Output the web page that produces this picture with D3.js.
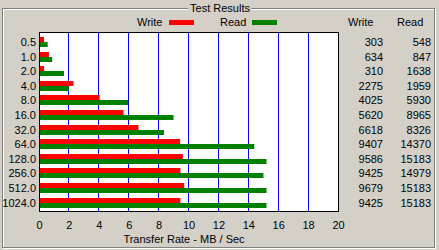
<!DOCTYPE html>
<html>
<head>
<meta charset="utf-8">
<script src="https://cdnjs.cloudflare.com/ajax/libs/d3/7.8.5/d3.min.js"></script>
<style>
  body { margin: 0; background: #d4d0c8; }
  svg { display: block; font-family: "Liberation Sans", Arial, sans-serif; font-size: 11px; }
</style>
</head>
<body>
<div class="mysvg"><svg></svg></div>
<script>
// block sizes tested
var blockSizes = ["0.5", "1.0", "2.0", "4.0", "8.0", "16.0", "32.0", "64.0", "128.0", "256.0", "512.0", "1024.0"];
// KB / sec
var writeValues = [303, 634, 310, 2275, 4025, 5620, 6618, 9407, 9586, 9425, 9679, 9425];
var readValues = [548, 847, 1638, 1959, 5930, 8965, 8326, 14370, 15183, 14979, 15183, 15183];
var xTicks = [0, 2, 4, 6, 8, 10, 12, 14, 16, 18, 20];

function drawResults(classname) {
  var width = 439, height = 250;

  var svg = d3.select(classname + " > svg")
    .attr("width", width)
    .attr("height", height)
    .style("background-color", "#d4d0c8");

  // group box (etched)
  svg.append("rect").attr("x", 3.5).attr("y", 9.5).attr("width", 432).attr("height", 239)
    .attr("fill", "none").attr("stroke", "#fff");
  svg.append("rect").attr("x", 2.5).attr("y", 8.5).attr("width", 432).attr("height", 239)
    .attr("fill", "none").attr("stroke", "#808080");
  svg.append("rect").attr("x", 188).attr("y", 2).attr("width", 63).attr("height", 10)
    .attr("fill", "#d4d0c8");
  svg.append("text").attr("x", 220).attr("y", 12).attr("text-anchor", "middle")
    .text("Test Results");

  var x = d3.scaleLinear().domain([0, 20]).range([39.5, 338.5]);
  var y = d3.scaleBand().domain(blockSizes).range([35, 35 + 14.6 * blockSizes.length]);

  // plot area
  svg.append("rect").attr("x", 39.5).attr("y", 32.5).attr("width", 299).attr("height", 179)
    .attr("fill", "#fff");

  svg.append("g").attr("class", "grid")
    .selectAll("line")
    .data(xTicks.slice(1, -1))
    .enter().append("line")
    .attr("x1", function (d) { return Math.round(x(d)) - 0.5; })
    .attr("x2", function (d) { return Math.round(x(d)) - 0.5; })
    .attr("y1", 33).attr("y2", 211)
    .attr("stroke", "#0000ff");

  var rows = svg.selectAll(".row")
    .data(blockSizes)
    .enter().append("g")
    .attr("class", "row");

  rows.append("rect")
    .attr("x", 40)
    .attr("y", function (d) { return Math.round(y(d) + 2); })
    .attr("width", function (d, i) { return x(writeValues[i] / 1000) - 40; })
    .attr("height", 5)
    .attr("fill", "#ff0000");

  rows.append("rect")
    .attr("x", 40)
    .attr("y", function (d) { return Math.round(y(d) + 7); })
    .attr("width", function (d, i) { return x(readValues[i] / 1000) - 40; })
    .attr("height", 5)
    .attr("fill", "#008000");

  svg.append("rect").attr("x", 39.5).attr("y", 32.5).attr("width", 299).attr("height", 179)
    .attr("fill", "none").attr("stroke", "#000");

  // category labels
  rows.append("text")
    .attr("x", 36)
    .attr("y", function (d) { return Math.round(y(d) + 11); })
    .attr("text-anchor", "end")
    .text(function (d) { return d; });

  // table on the right
  rows.append("text")
    .attr("x", 383)
    .attr("y", function (d) { return Math.round(y(d) + 11); })
    .attr("text-anchor", "end")
    .text(function (d, i) { return writeValues[i]; });

  rows.append("text")
    .attr("x", 431)
    .attr("y", function (d) { return Math.round(y(d) + 11); })
    .attr("text-anchor", "end")
    .text(function (d, i) { return readValues[i]; });

  svg.append("text").attr("x", 348).attr("y", 26).text("Write");
  svg.append("text").attr("x", 397).attr("y", 26).text("Read");

  // x axis labels
  svg.append("g").selectAll("text")
    .data(xTicks)
    .enter().append("text")
    .attr("x", function (d) { return x(d); })
    .attr("y", 229)
    .attr("text-anchor", "middle")
    .text(function (d) { return d; });

  svg.append("text")
    .attr("x", 184).attr("y", 243)
    .attr("text-anchor", "middle")
    .text("Transfer Rate - MB / Sec");

  // legend
  svg.append("text").attr("x", 137).attr("y", 26).text("Write");
  svg.append("rect").attr("x", 169).attr("y", 20).attr("width", 25).attr("height", 5).attr("fill", "#ff0000");
  svg.append("text").attr("x", 220).attr("y", 26).text("Read");
  svg.append("rect").attr("x", 252).attr("y", 20).attr("width", 25).attr("height", 5).attr("fill", "#008000");
}

drawResults(".mysvg");
</script>
</body>
</html>
